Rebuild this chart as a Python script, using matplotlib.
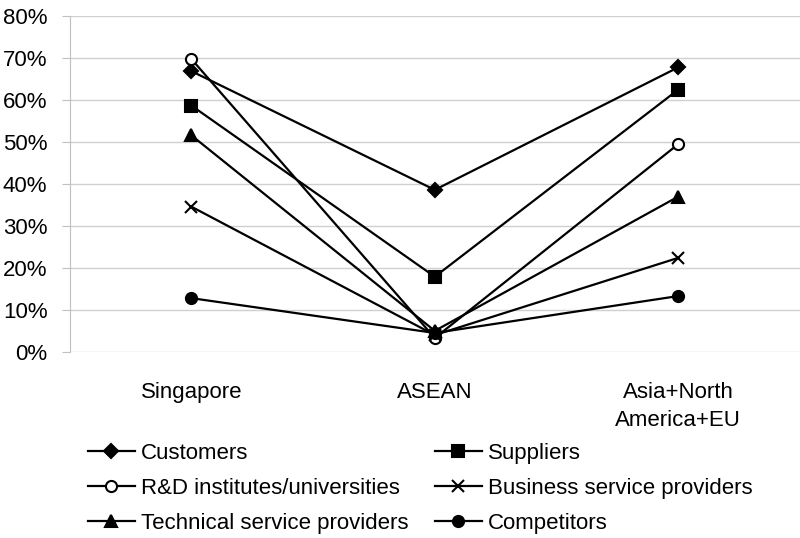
import matplotlib.pyplot as plt
from matplotlib.ticker import PercentFormatter

plt.rcParams['font.family'] = ['Liberation Sans', 'DejaVu Sans']

regions = ['Singapore', 'ASEAN', 'Asia+North\nAmerica+EU']
customers = [66.9, 38.6, 67.8]
suppliers = [58.7, 17.9, 62.5]
rnd = [69.8, 3.3, 49.5]
business = [34.6, 4.0, 22.4]
technical = [51.6, 5.0, 37.0]
competitors = [12.8, 4.5, 13.3]

series = [
    ('Customers', customers, 'D', 'black', 7),
    ('Suppliers', suppliers, 's', 'black', 8),
    ('R&D institutes/universities', rnd, 'o', 'white', 8),
    ('Business service providers', business, 'x', 'black', 9),
    ('Technical service providers', technical, '^', 'black', 8),
    ('Competitors', competitors, 'o', 'black', 8),
]

fig = plt.figure(figsize=(8, 5.38), dpi=100)
ax = fig.add_axes([0.087, 0.346, 0.913, 0.624])

x = range(len(regions))
lines = {}
for name, vals, mk, fc, ms in series:
    ln, = ax.plot(x, vals, color='black', lw=1.6, marker=mk, markersize=ms,
                  markerfacecolor=fc, markeredgecolor='black',
                  markeredgewidth=1.5, label=name)
    lines[name] = ln

ax.set_xlim(-0.5, 2.5)
ax.set_ylim(0, 80)
ax.set_yticks(range(0, 81, 10))
ax.yaxis.set_major_formatter(PercentFormatter(decimals=0))
ax.set_xticks(list(x))
ax.set_xticklabels(regions, linespacing=1.4)
ax.grid(axis='y', color='#d0d0d0', lw=1)
ax.set_axisbelow(True)
for s in ['top', 'right', 'bottom']:
    ax.spines[s].set_visible(False)
ax.spines['left'].set_color('#c0c0c0')
ax.tick_params(axis='y', length=6, color='#c0c0c0', labelsize=16, pad=10)
ax.tick_params(axis='x', length=0, labelsize=16, pad=22)

# row-wise legend order (matplotlib fills columns first)
order = ['Customers', 'R&D institutes/universities', 'Technical service providers',
         'Suppliers', 'Business service providers', 'Competitors']
fig.legend([lines[n] for n in order], order, loc='upper left',
           bbox_to_anchor=(0.11, 0.1775), ncol=2, frameon=False, fontsize=16,
           handlelength=2.1, handletextpad=0.27, columnspacing=1.2,
           labelspacing=0.63, borderpad=0, borderaxespad=0)

fig.savefig('out.png', dpi=100)
